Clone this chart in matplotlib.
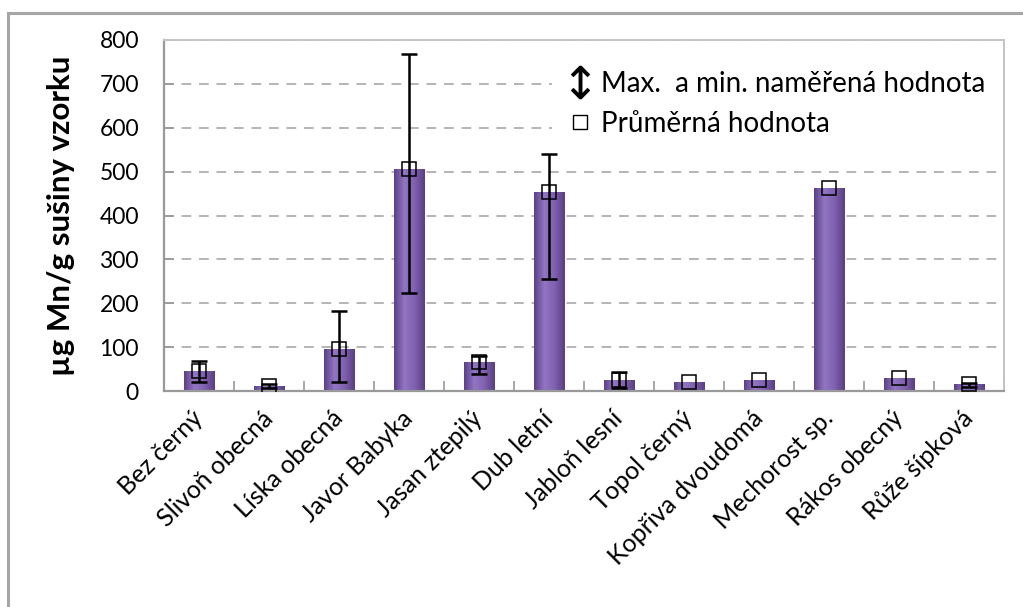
import numpy as np
import matplotlib.pyplot as plt
from matplotlib.lines import Line2D
from matplotlib.colors import LinearSegmentedColormap

# data (µg Mn / g of dry sample)
species = ["Bez černý", "Slivoň obecná", "Líska obecná", "Javor Babyka", "Jasan ztepilý",
           "Dub letní", "Jabloň lesní", "Topol černý", "Kopřiva dvoudomá", "Mechorost sp.",
           "Rákos obecný", "Růže šípková"]
mean_val = [45, 12, 95, 505, 65, 453, 25, 20, 25, 463, 30, 16]
max_val = [68, 15, 183, 767, 80, 541, 44, np.nan, np.nan, np.nan, np.nan, 18]
min_val = [21, 7, 20, 224, 38, 256, 6, np.nan, np.nan, np.nan, np.nan, 10]
y_ticks = [0, 100, 200, 300, 400, 500, 600, 700, 800]

plt.rcParams["font.family"] = ["Lato", "DejaVu Sans"]

fig = plt.figure(figsize=(10.23, 6.07), dpi=100)
ax = fig.add_axes([164 / 1023, 1 - 391 / 607, 840 / 1023, 351 / 607])

x = np.arange(len(species))
bar_w = 0.43

# purple bars with a simple horizontal shading
bars = ax.bar(x, mean_val, width=bar_w, color="#7a5aa8", zorder=2)
shade = LinearSegmentedColormap.from_list("shade", ["#5c4187", "#9275c4", "#8061af", "#5a3f83"])
grad = np.linspace(0, 1, 64).reshape(1, -1)
for b in bars:
    x0 = b.get_x()
    h = b.get_height()
    im = ax.imshow(grad, cmap=shade, aspect="auto", zorder=2.1,
                   extent=[x0, x0 + b.get_width(), 0, h])
    im.set_clip_path(b)

# min / max range as error bars
mean_arr = np.array(mean_val, dtype=float)
lo = mean_arr - np.array(min_val)
hi = np.array(max_val) - mean_arr
ax.errorbar(x, mean_arr, yerr=[lo, hi], fmt="none", ecolor="black",
            elinewidth=1.8, capsize=6, capthick=1.8, zorder=3)

# mean value markers
ax.plot(x, mean_arr, ls="none", marker="s", markersize=10, mfc="none",
        mec="black", mew=1.1, zorder=4)

ax.set_xlim(-0.5, len(species) - 0.5)
ax.set_ylim(0, 800)
ax.set_yticks(y_ticks)
ax.set_xticks(np.arange(-0.5, len(species)), minor=True)
ax.set_xticks(x)
ax.set_xticklabels(species, rotation=45, ha="right", va="center",
                   rotation_mode="anchor", fontsize=18)
ax.tick_params(axis="x", which="major", length=0, pad=17)
ax.tick_params(axis="x", which="minor", direction="in", length=7, color="#999999", width=1.2)
ax.tick_params(axis="y", direction="in", length=7, color="#999999", width=1.2,
               labelsize=16.5, pad=18)

ax.grid(axis="y", color="#b4b4b4", linestyle=(0, (5, 4)), linewidth=1.4, zorder=0)
ax.set_axisbelow(True)

for side in ["left", "bottom"]:
    ax.spines[side].set_color("#999999")
    ax.spines[side].set_linewidth(1.6)
for side in ["top", "right"]:
    ax.spines[side].set_color("#c4c4c4")
    ax.spines[side].set_linewidth(1.4)

ax.set_ylabel("µg Mn/g sušiny vzorku", fontsize=22.5, fontweight="bold")
ax.yaxis.set_label_coords(-0.106, 0.5)

handles = [
    Line2D([], [], ls="none", marker=r"$\updownarrow$", color="black", markersize=24, mew=0.1),
    Line2D([], [], ls="none", marker="s", mfc="none", mec="black", markersize=10, mew=1),
]
leg = ax.legend(handles, ["Max.  a min. naměřená hodnota", "Průměrná hodnota"],
                loc="upper right", bbox_to_anchor=(0.997, 0.96), frameon=True,
                fontsize=20, handlelength=0.8, handletextpad=0.35, labelspacing=0.5,
                borderaxespad=0.0, borderpad=0.6, fancybox=False)
leg.get_frame().set_facecolor("white")
leg.get_frame().set_edgecolor("none")
leg.get_frame().set_alpha(1)

# chart area border (left and top edges visible)
fig.add_artist(Line2D([8 / 1023, 8 / 1023], [0, 1 - 13 / 607], color="#a6a6a6", lw=2.2))
fig.add_artist(Line2D([8 / 1023, 1], [1 - 13 / 607, 1 - 13 / 607], color="#a6a6a6", lw=2.2))

fig.savefig("out.png", dpi=100)
